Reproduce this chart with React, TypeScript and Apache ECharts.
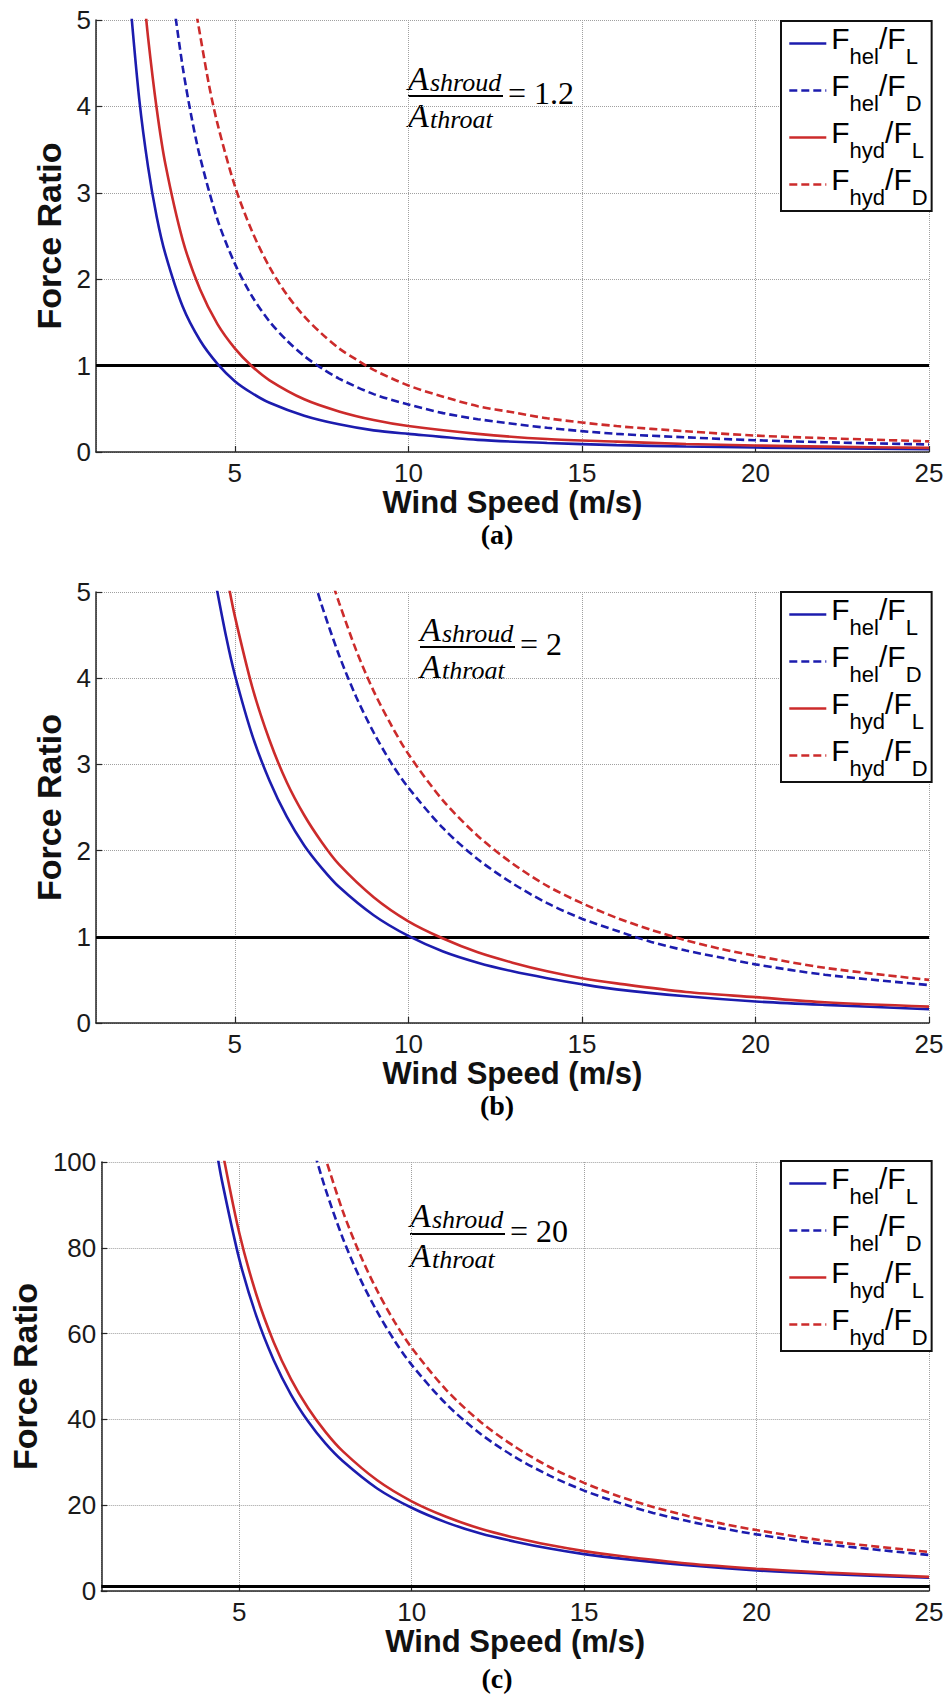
import React, { useEffect, useRef } from "react";
import * as echarts from "echarts";

// ---------- data ----------
const seriesNames = ["F_hel/F_L", "F_hel/F_D", "F_hyd/F_L", "F_hyd/F_D"];
const legendLabels: Record<string, string> = {
  "F_hel/F_L": "{F|F}{s|hel}{F|/F}{s|L}",
  "F_hel/F_D": "{F|F}{s|hel}{F|/F}{s|D}",
  "F_hyd/F_L": "{F|F}{s|hyd}{F|/F}{s|L}",
  "F_hyd/F_D": "{F|F}{s|hyd}{F|/F}{s|D}",
};
const panelCaptions = ["(a)", "(b)", "(c)"];
const areaRatioLabels = ["= 1.2", "= 2", "= 20"];
const yMaxes = [5, 5, 100];
const yIntervals = [1, 1, 20];
const referenceLevel = 1;

// Panel (a): A_shroud/A_throat = 1.2
const aHelL: number[][] = [[2, 5.15], [2.25, 4.07], [2.5, 3.3], [2.75, 2.72], [3, 2.29], [3.5, 1.68], [4, 1.29], [4.5, 1.02], [5, 0.82], [5.5, 0.68], [6, 0.57], [7, 0.42], [8, 0.32], [9, 0.25], [10, 0.21], [12, 0.14], [14, 0.105], [16, 0.08], [18, 0.064], [20, 0.052], [22, 0.043], [25, 0.033]];
const aHelD: number[][] = [[3.25, 5.16], [3.5, 4.45], [3.75, 3.88], [4, 3.41], [4.5, 2.69], [5, 2.18], [5.5, 1.8], [6, 1.51], [6.5, 1.29], [7, 1.11], [7.5, 0.97], [8, 0.85], [9, 0.67], [10, 0.55], [11, 0.45], [12, 0.38], [14, 0.28], [16, 0.21], [18, 0.17], [20, 0.136], [22, 0.113], [25, 0.087]];
const aHydL: number[][] = [[2.35, 5.43], [2.5, 4.8], [2.75, 3.97], [3, 3.33], [3.5, 2.45], [4, 1.88], [4.5, 1.48], [5, 1.2], [5.5, 0.99], [6, 0.83], [7, 0.61], [8, 0.47], [9, 0.37], [10, 0.3], [12, 0.21], [14, 0.15], [16, 0.12], [18, 0.093], [20, 0.075], [22, 0.062], [25, 0.048]];
const aHydD: number[][] = [[3.9, 5.06], [4.25, 4.26], [4.5, 3.8], [5, 3.08], [5.5, 2.55], [6, 2.14], [6.5, 1.82], [7, 1.57], [7.5, 1.37], [8, 1.2], [8.5, 1.07], [9, 0.95], [10, 0.77], [11, 0.64], [12, 0.53], [13, 0.46], [14, 0.39], [16, 0.3], [18, 0.24], [20, 0.19], [22, 0.16], [25, 0.123]];

// Panel (b): A_shroud/A_throat = 2
const bHelL: number[][] = [[4.45, 5.1], [4.75, 4.48], [5, 4.04], [5.5, 3.34], [6, 2.81], [6.5, 2.39], [7, 2.06], [7.5, 1.8], [8, 1.58], [9, 1.25], [10, 1.01], [11, 0.83], [12, 0.7], [13, 0.6], [14, 0.52], [15, 0.45], [16, 0.39], [18, 0.31], [20, 0.25], [22, 0.21], [25, 0.16]];
const bHelD: number[][] = [[7.3, 5.12], [7.5, 4.85], [8, 4.27], [8.5, 3.78], [9, 3.37], [9.5, 3.02], [10, 2.73], [11, 2.26], [12, 1.9], [13, 1.62], [14, 1.39], [15, 1.21], [16, 1.07], [17, 0.94], [18, 0.84], [19, 0.76], [20, 0.68], [22, 0.56], [25, 0.44]];
const bHydL: number[][] = [[4.8, 5.12], [5, 4.72], [5.5, 3.9], [6, 3.28], [6.5, 2.79], [7, 2.41], [7.5, 2.1], [8, 1.84], [9, 1.46], [10, 1.18], [11, 0.98], [12, 0.82], [13, 0.7], [14, 0.6], [15, 0.52], [16, 0.46], [18, 0.36], [20, 0.3], [22, 0.24], [25, 0.19]];
const bHydD: number[][] = [[7.85, 5.06], [8, 4.88], [8.5, 4.32], [9, 3.85], [9.5, 3.46], [10, 3.12], [11, 2.58], [12, 2.17], [13, 1.85], [14, 1.59], [15, 1.39], [16, 1.22], [17, 1.08], [18, 0.96], [19, 0.86], [20, 0.78], [22, 0.64], [25, 0.5]];

// Panel (c): A_shroud/A_throat = 20
const cHelL: number[][] = [[4.35, 102.3], [4.5, 95.6], [5, 77.4], [5.5, 64], [6, 53.8], [6.5, 45.8], [7, 39.5], [7.5, 34.4], [8, 30.3], [9, 23.9], [10, 19.4], [11, 16], [12, 13.4], [13, 11.5], [14, 9.9], [15, 8.6], [16, 7.6], [18, 6], [20, 4.8], [22, 4], [25, 3.1]];
const cHelD: number[][] = [[7.2, 101.7], [7.5, 93.7], [8, 82.3], [8.5, 72.9], [9, 65.1], [9.5, 58.4], [10, 52.7], [11, 43.6], [12, 36.6], [13, 31.2], [14, 26.9], [15, 23.4], [16, 20.6], [17, 18.2], [18, 16.3], [19, 14.6], [20, 13.2], [22, 10.9], [25, 8.4]];
const cHydL: number[][] = [[4.5, 103.1], [5, 83.5], [5.5, 69], [6, 58], [6.5, 49.4], [7, 42.6], [7.5, 37.1], [8, 32.6], [9, 25.8], [10, 20.9], [11, 17.3], [12, 14.5], [13, 12.4], [14, 10.7], [15, 9.3], [16, 8.2], [18, 6.4], [20, 5.2], [22, 4.3], [25, 3.3]];
const cHydD: number[][] = [[7.45, 102.2], [8, 88.6], [8.5, 78.5], [9, 70], [9.5, 62.8], [10, 56.7], [11, 46.9], [12, 39.4], [13, 33.6], [14, 28.9], [15, 25.2], [16, 22.1], [17, 19.6], [18, 17.5], [19, 15.7], [20, 14.2], [22, 11.7], [25, 9.1]];

const panels = [
  [aHelL, aHelD, aHydL, aHydD],
  [bHelL, bHelD, bHydL, bHydD],
  [cHelL, cHelD, cHydL, cHydD],
];

// ---------- styling ----------
const SANS = "Liberation Sans, Arial, Helvetica, sans-serif";
const SERIF = "Liberation Serif, Times New Roman, serif";
const BLUE = "#1c1cae";
const RED = "#cc2b2b";
const seriesColors = [BLUE, BLUE, RED, RED];
const seriesDashed = [false, true, false, true];

const gridTops = [20, 592, 1162];
const gridHeights = [432, 431, 429];
const GRID_LEFT = 96;
const GRID_WIDTH = 833;
const yNameGaps = [21, 21, 52];
const legendTops = [21, 592, 1161];
const eqX = [408, 420, 410];
const eqBarY = [96, 647, 1234];
const eqNumDy = [-18, -18, -19];
const eqDenDy = [19, 19, 21];
const captionY = [534, 1105, 1678];

function equation(x0: number, barY: number, numDy: number, denDy: number, rhs: string) {
  const it = (text: string, x: number, y: number, size: number) => ({
    type: "text",
    x,
    y,
    silent: true,
    style: {
      text,
      fontFamily: SERIF,
      fontStyle: "italic",
      fontSize: size,
      fill: "#000",
      align: "left",
      verticalAlign: "middle",
    },
  });
  return [
    it("A", x0, barY + numDy, 34),
    it("shroud", x0 + 22, barY + numDy + 4, 26),
    {
      type: "line",
      silent: true,
      shape: { x1: x0, y1: barY, x2: x0 + 95, y2: barY },
      style: { stroke: "#000", lineWidth: 2 },
    },
    it("A", x0, barY + denDy, 34),
    it("throat", x0 + 22, barY + denDy + 4, 26),
    {
      type: "text",
      x: x0 + 100,
      y: barY - 3,
      silent: true,
      style: {
        text: rhs,
        fontFamily: SERIF,
        fontSize: 32,
        fill: "#000",
        align: "left",
        verticalAlign: "middle",
      },
    },
  ];
}

export default function App() {
  const ref = useRef<HTMLDivElement>(null);

  useEffect(() => {
    document.body.style.margin = "0";
    if (!ref.current) return;
    const chart = echarts.init(ref.current, undefined, { renderer: "svg" });

    const grid = gridTops.map((top, i) => ({
      left: GRID_LEFT,
      top,
      width: GRID_WIDTH,
      height: gridHeights[i],
      containLabel: false,
    }));

    const xAxis = gridTops.map((_, i) => ({
      type: "value",
      gridIndex: i,
      min: 1,
      max: 25,
      splitNumber: 5,
      name: "Wind Speed (m/s)",
      nameLocation: "middle",
      nameGap: 26,
      nameTextStyle: { fontFamily: SANS, fontSize: 31, fontWeight: "bold", color: "#111" },
      axisLine: { show: true, onZero: false, lineStyle: { color: "#262626", width: 1.5 } },
      axisTick: { show: true, inside: true, length: 6, lineStyle: { color: "#262626", width: 1.2 } },
      axisLabel: { showMinLabel: false, margin: 8, fontFamily: SANS, fontSize: 26, color: "#1a1a1a" },
      splitLine: { show: true, lineStyle: { type: "dotted", color: "#a0a0a0", width: 1 } },
    }));

    const yAxis = gridTops.map((_, i) => ({
      type: "value",
      gridIndex: i,
      min: 0,
      max: yMaxes[i],
      interval: yIntervals[i],
      name: "Force Ratio",
      nameLocation: "middle",
      nameGap: yNameGaps[i],
      nameTextStyle: { fontFamily: SANS, fontSize: 34, fontWeight: "bold", color: "#111" },
      axisLine: { show: true, lineStyle: { color: "#262626", width: 1.5 } },
      axisTick: { show: true, inside: true, length: 6, lineStyle: { color: "#262626", width: 1.2 } },
      axisLabel: { margin: 5, fontFamily: SANS, fontSize: 26, color: "#1a1a1a" },
      splitLine: { show: true, lineStyle: { type: "dotted", color: "#a0a0a0", width: 1 } },
    }));

    const series: any[] = [];
    panels.forEach((panel, p) => {
      panel.forEach((data, s) => {
        series.push({
          type: "line",
          name: seriesNames[s],
          xAxisIndex: p,
          yAxisIndex: p,
          data,
          symbol: "none",
          showSymbol: false,
          smooth: 0.3,
          clip: true,
          z: 3,
          lineStyle: {
            color: seriesColors[s],
            width: 2.6,
            type: seriesDashed[s] ? [8, 4] : "solid",
          },
          itemStyle: { color: seriesColors[s] },
          markLine:
            s === 0
              ? {
                  silent: true,
                  symbol: ["none", "none"],
                  label: { show: false },
                  lineStyle: { color: "#000", width: 3, type: "solid" },
                  data: [{ yAxis: referenceLevel }],
                  z: 2,
                }
              : undefined,
        });
      });
    });

    const legend = legendTops.map((top) => ({
      orient: "vertical",
      left: 781,
      top,
      data: seriesNames,
      itemWidth: 37,
      itemHeight: 14,
      itemGap: 3,
      padding: [2, 4, 3, 7],
      backgroundColor: "#fff",
      borderColor: "#111",
      borderWidth: 2,
      borderRadius: 0,
      selectedMode: false,
      itemStyle: { color: "rgba(0,0,0,0)", borderColor: "rgba(0,0,0,0)", borderWidth: 0, opacity: 0 },
      lineStyle: { width: 2.6 },
      formatter: (name: string) => legendLabels[name],
      textStyle: {
        fontFamily: SANS,
        color: "#000",
        rich: {
          F: { fontFamily: SANS, fontSize: 30, padding: [3, 0, 0, 0], verticalAlign: "top", color: "#000" },
          s: { fontFamily: SANS, fontSize: 22, padding: [25, 0, 0, 0], verticalAlign: "bottom", color: "#000" },
        },
      },
    }));

    const graphic: any[] = [];
    gridTops.forEach((_, i) => {
      graphic.push(...equation(eqX[i], eqBarY[i], eqNumDy[i], eqDenDy[i], areaRatioLabels[i]));
      graphic.push({
        type: "text",
        x: 497,
        y: captionY[i],
        silent: true,
        style: {
          text: panelCaptions[i],
          fontFamily: SERIF,
          fontWeight: "bold",
          fontSize: 28,
          fill: "#000",
          align: "center",
          verticalAlign: "middle",
        },
      });
    });

    chart.setOption({
      animation: false,
      backgroundColor: "#fff",
      grid,
      xAxis,
      yAxis,
      legend,
      series,
      graphic,
    });

    return () => chart.dispose();
  }, []);

  return <div ref={ref} style={{ width: 950, height: 1695 }} />;
}
